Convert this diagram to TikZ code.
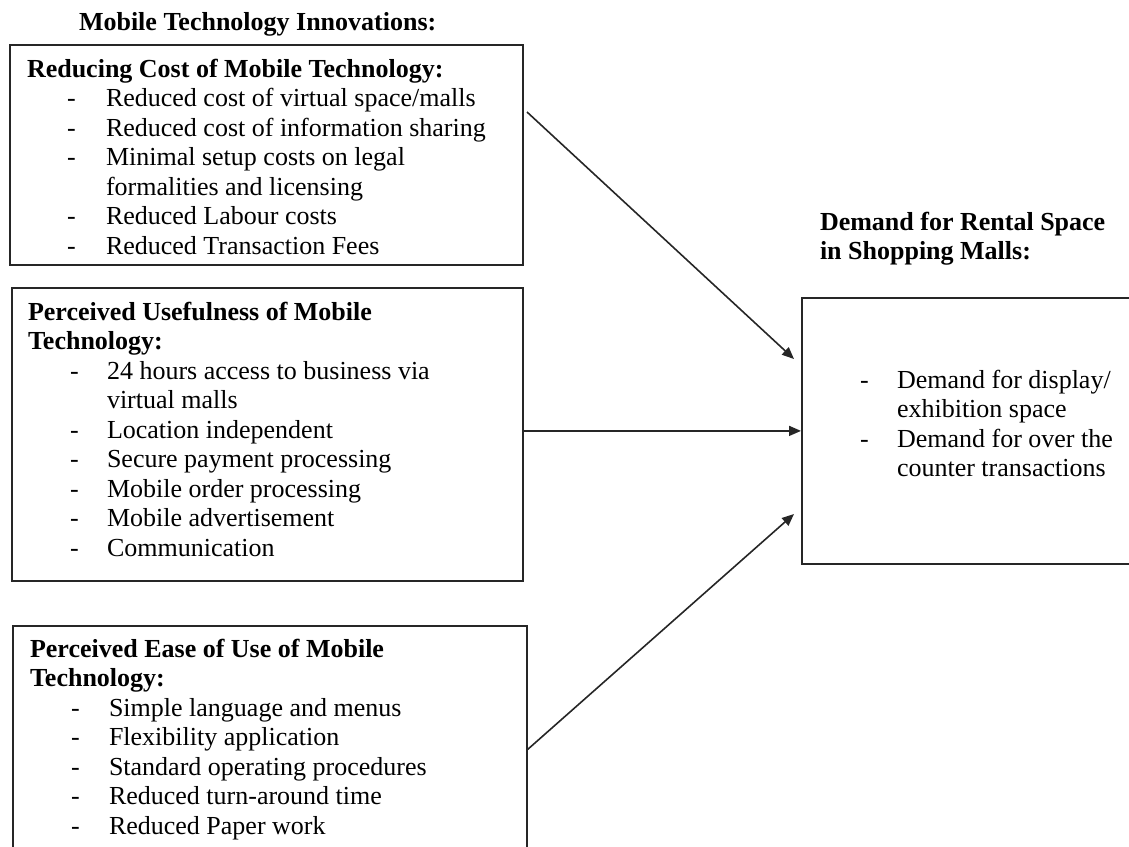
\documentclass[tikz,border=0pt]{standalone}
\usepackage{fontspec}
\setmainfont{Liberation Serif}
\usetikzlibrary{arrows.meta}
\begin{document}
\begin{tikzpicture}[x=0.5pt,y=-0.5pt,
  boxstyle/.style={draw=black!85, line width=0.9pt, rectangle, inner sep=0pt, anchor=north west},
  txt/.style={anchor=base west, inner sep=0pt, outer sep=0pt, font=\fontsize{13}{15}\selectfont},
  hd/.style={txt, font=\fontsize{13}{15}\selectfont\bfseries},
  conn/.style={line width=0.8pt, draw=black!85, -{Triangle[length=6pt,width=5pt]}}]
\useasboundingbox (0,0) rectangle (1129,846);
\clip (0,0) rectangle (1129,846);
% boxes
\node[boxstyle, minimum width=256.5pt, minimum height=110pt] (box1) at (9,44) {};
\node[boxstyle, minimum width=255.5pt, minimum height=146.5pt] (box2) at (11,287) {};
\node[boxstyle, minimum width=257pt, minimum height=130pt] (box3) at (12,625) {};
\node[boxstyle, minimum width=175pt, minimum height=133pt] (rbox) at (801,297) {};
% titles
\node[hd] (title) at (79,30) {Mobile Technology Innovations:};
\node[hd] (rh1) at (820,230) {Demand for Rental Space};
\node[hd] (rh2) at (820,259.5) {in Shopping Malls:};
% box 1
\node[hd] (h1) at (27,77) {Reducing Cost of Mobile Technology:};
\node[txt] (d11) at (67,106.5) {-}; \node[txt] (t11) at (106,106.5) {Reduced cost of virtual space/malls};
\node[txt] (d12) at (67,136) {-}; \node[txt] (t12) at (106,136) {Reduced cost of information sharing};
\node[txt] (d13) at (67,165.5) {-}; \node[txt] (t13) at (106,165.5) {Minimal setup costs on legal};
\node[txt] (t13b) at (106,195) {formalities and licensing};
\node[txt] (d14) at (67,224.5) {-}; \node[txt] (t14) at (106,224.5) {Reduced Labour costs};
\node[txt] (d15) at (67,254) {-}; \node[txt] (t15) at (106,254) {Reduced Transaction Fees};
% box 2
\node[hd] (h2a) at (28,320) {Perceived Usefulness of Mobile};
\node[hd] (h2b) at (28,349.5) {Technology:};
\node[txt] (d21) at (70,379) {-}; \node[txt] (t21) at (107,379) {24 hours access to business via};
\node[txt] (t21b) at (107,408.5) {virtual malls};
\node[txt] (d22) at (70,438) {-}; \node[txt] (t22) at (107,438) {Location independent};
\node[txt] (d23) at (70,467.5) {-}; \node[txt] (t23) at (107,467.5) {Secure payment processing};
\node[txt] (d24) at (70,497) {-}; \node[txt] (t24) at (107,497) {Mobile order processing};
\node[txt] (d25) at (70,526.5) {-}; \node[txt] (t25) at (107,526.5) {Mobile advertisement};
\node[txt] (d26) at (70,556) {-}; \node[txt] (t26) at (107,556) {Communication};
% box 3
\node[hd] (h3a) at (30,657) {Perceived Ease of Use of Mobile};
\node[hd] (h3b) at (30,686.5) {Technology:};
\node[txt] (d31) at (71,716) {-}; \node[txt] (t31) at (109,716) {Simple language and menus};
\node[txt] (d32) at (71,745.5) {-}; \node[txt] (t32) at (109,745.5) {Flexibility application};
\node[txt] (d33) at (71,775) {-}; \node[txt] (t33) at (109,775) {Standard operating procedures};
\node[txt] (d34) at (71,804.5) {-}; \node[txt] (t34) at (109,804.5) {Reduced turn-around time};
\node[txt] (d35) at (71,834) {-}; \node[txt] (t35) at (109,834) {Reduced Paper work};
% right box
\node[txt] (d41) at (860,388) {-}; \node[txt] (t41) at (897,388) {Demand for display/};
\node[txt] (t41b) at (897,417.5) {exhibition space};
\node[txt] (d42) at (860,447) {-}; \node[txt] (t42) at (897,447) {Demand for over the};
\node[txt] (t42b) at (897,476.5) {counter transactions};
% connectors
\coordinate (a1s) at (527,112);
\coordinate (a1e) at (794,359);
\coordinate (a3s) at (527,750);
\coordinate (a3e) at (794,514);
\draw[conn] (a1s) -- (a1e);
\draw[conn] (box2.east |- rbox.west) -- (rbox.west);
\draw[conn] (a3s) -- (a3e);
\end{tikzpicture}
\end{document}
